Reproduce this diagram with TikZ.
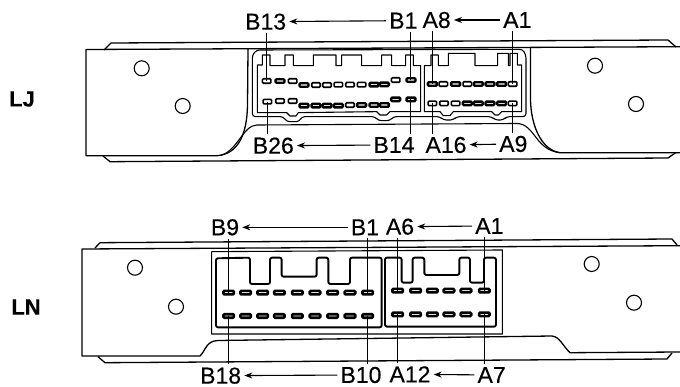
\documentclass[tikz,border=0pt]{standalone}
\usepackage{fontspec}
\setmainfont[FakeBold=0.3]{Liberation Sans}
\usetikzlibrary{arrows.meta}
\tikzset{
  lbl/.style={inner sep=3pt,font=\fontsize{23}{23}\selectfont},
  side/.style={inner sep=0pt,font=\fontsize{22}{22}\bfseries\selectfont},
  pinbox/.style={draw=black,fill=white,line width=1.6pt,rounded corners=1pt,inner sep=0pt,minimum width=8.5pt,minimum height=4.5pt},
  pindark/.style={pinbox,line width=2.4pt,minimum height=3.5pt,minimum width=9pt},
  pinboxb/.style={pinbox,minimum width=10.5pt,minimum height=3.8pt,minimum height=3.5pt,line width=2.6pt},
  plate/.style={line width=1.3pt,line join=round},
  thin plate/.style={line width=1.1pt,line join=round},
  comb/.style={line width=1.1pt,line join=round},
  combb/.style={line width=1.9pt,line join=round,rounded corners=2pt},
  leader/.style={line width=1pt},
  arr/.style={line width=1.1pt,-{Stealth[length=8pt,width=6pt]}},
  hole/.style={line width=1.1pt}
}
\begin{document}
\begin{tikzpicture}[x=1pt,y=-1pt]
\useasboundingbox (0,0) rectangle (680,387);
% ---------- LJ plate
\draw[plate] (680,46.7) -- (86,49.5) -- (86,155.7) -- (217,155.7)
  .. controls (238,154) and (247,135) .. (247.5,105) -- (248,49.5);
\draw[plate] (104,50) -- (111,43) -- (668,40) -- (676,47);
\draw[plate] (103,156) -- (110,161.7) -- (668,158) -- (676,152.5);
\draw[plate] (680,152.7) -- (560,152.7) .. controls (541,150) and (531,125) .. (530.5,100) -- (530.5,47);
\draw[thin plate] (220,155.5) .. controls (237,152) and (243,125) .. (257,125) -- (517,123.5)
  .. controls (535,124) and (535,150) .. (560,152.7);
\foreach \x/\y in {141.7/68.3,182.7/106,595/65.7,636/104}
  \draw[hole] (\x,\y) circle (7.5);
\node[side] (lj) at (22,99) {LJ};
% ---------- LJ connector
\begin{scope}[shift={(230,0)},x=.3333pt,y=-.3333pt]
\draw[comb,rounded corners=3pt] (67,165) -- (80,150) -- (878,148) -- (888,165) -- (888,350) -- (830,350)
  -- (820,360) -- (795,360) -- (785,350) -- (680,350) -- (670,360) -- (640,360) -- (630,350) -- (490,350)
  -- (480,362) -- (445,362) -- (435,350) -- (215,350) -- (208,365) -- (170,365) -- (160,350) -- (67,350) -- cycle;
\draw[comb] (82,338) -- (82,195) -- (97,195) -- (97,165) -- (120,165) -- (120,197) -- (165,197) -- (165,165)
  -- (190,165) -- (190,197) -- (250,197) -- (250,165) -- (318,165) -- (318,197) -- (335,197) -- (335,165)
  -- (395,165) -- (395,197) -- (455,197) -- (455,165) -- (485,165) -- (485,197) -- (527,197) -- (527,165)
  -- (550,165) -- (550,197) -- (572,197) -- (572,335) -- (480,335) -- (470,345) -- (450,345) -- (440,335)
  -- (205,338) -- (198,348) -- (180,348) -- (170,338) -- cycle;
\draw[comb] (583,335) -- (583,197) -- (603,197) -- (603,165) -- (625,165) -- (625,197) -- (655,197) -- (655,160)
  -- (735,160) -- (735,197) -- (803,197) -- (803,160) -- (835,160) -- (835,197) -- (840,197) -- (840,160)
  -- (862,160) -- (862,195) -- (875,195) -- (875,335) -- (815,335) -- (805,345) -- (795,345) -- (785,335)
  -- (670,335) -- (660,347) -- (640,347) -- (630,335) -- cycle;
\foreach \x/\y/\s [count=\i] in {110/243/pinbox,150/243/pindark,188/243/pinbox,222/255/pindark,258/255/pinbox,291/255/pinbox,325/254/pinbox,360/254/pinbox,395/254/pinbox,432/254/pindark,463/253/pindark,497/240/pinbox,543/240/pindark}
  \node[\s] (bt\i) at (\x,\y) {};
\foreach \x/\y/\s [count=\i] in {112/305/pinbox,150/303/pinbox,188/303/pinbox,222/317/pindark,258/317/pindark,291/317/pindark,325/317/pindark,360/315/pinbox,395/315/pindark,432/315/pindark,463/315/pindark,497/298/pindark,543/298/pindark}
  \node[\s] (bb\i) at (\x,\y) {};
\foreach \x/\s [count=\i] in {607/pindark,640/pinbox,677/pindark,712/pinbox,745/pindark,780/pindark,815/pindark,848/pinbox}
  \node[\s] (at\i) at (\x,252) {};
\foreach \x/\s [count=\i] in {607/pinbox,642/pinbox,677/pinbox,712/pindark,745/pindark,780/pindark,815/pindark,848/pinbox}
  \node[\s] (ab\i) at (\x,310) {};
\node[lbl] (lb13) at (107,65) {B13};
\node[lbl] (lb1) at (520,62) {B1};
\node[lbl] (la8) at (620,60) {A8};
\node[lbl] (la1) at (862,60) {A1};
\node[lbl] (lb26) at (130,437) {B26};
\node[lbl] (lb14) at (492,435) {B14};
\node[lbl] (la16) at (648,435) {A16};
\node[lbl] (la9) at (850,432) {A9};
\foreach \p/\l in {bt1/lb13,bt13/lb1,at1/la8,at8/la1}
  \draw[leader] (\p.center) -- (\p.center |- \l.south);
\foreach \p/\l in {bb1/lb26,bb13/lb14,ab1/la16,ab8/la9}
  \draw[leader] (\p.center) -- (\p.center |- \l.north);
\draw[arr] (lb1) -- (lb13);
\draw[arr] (la1) -- (la8);
\draw[arr] (lb14) -- (lb26);
\draw[arr] (la9) -- (la16);
\end{scope}
% ---------- LN plate
\draw[plate] (680,245.7) -- (82,249) -- (82,356) -- (200,356)
  .. controls (206,350) and (206,341) .. (218,340.5) -- (552,336) .. controls (560,337) and (562,345) .. (570,352.7) -- (680,352);
\draw[plate] (95,248) -- (100,242.7) -- (672,239) -- (677,245);
\draw[plate] (98,356.7) -- (105,362.7) -- (667,359) -- (672,353);
\foreach \x/\y in {135/267.7,176/306.7,591.7/264,634/302.7}
  \draw[hole] (\x,\y) circle (7.5);
\node[side] (ln) at (26,307) {LN};
% ---------- LN connector
\begin{scope}[shift={(190,210)},x=.3333pt,y=-.3333pt]
\draw[comb] (65,125) -- (937,120) -- (937,372) -- (65,372) -- cycle;
\draw[combb] (78,352) -- (78,145) -- (180,143) -- (180,222) -- (240,222) -- (240,143) -- (275,143) -- (275,200)
  -- (380,200) -- (380,143) -- (415,143) -- (415,222) -- (480,222) -- (480,143) -- (575,143) -- (575,352) -- cycle;
\draw[combb] (585,350) -- (585,143) -- (635,143) -- (635,218) -- (668,218) -- (668,143) -- (703,143) -- (703,195)
  -- (808,195) -- (808,143) -- (840,143) -- (840,218) -- (882,218) -- (882,143) -- (918,143) -- (918,350) -- cycle;
\foreach \x [count=\i] in {116,167,218,268,322,375,428,480,533}{
  \node[pinboxb] (nbt\i) at (\x,248) {};
  \node[pinboxb] (nbb\i) at (\x,318) {};
}
\foreach \x [count=\i] in {623,677,727,777,828,883}{
  \node[pinboxb] (nat\i) at (\x,242) {};
  \node[pinboxb] (nab\i) at (\x,313) {};
}
\node[lbl] (nb9) at (105,52) {B9};
\node[lbl] (nb1) at (525,52) {B1};
\node[lbl] (na6) at (630,50) {A6};
\node[lbl] (na1) at (898,48) {A1};
\node[lbl] (nb18) at (92,497) {B18};
\node[lbl] (nb10) at (513,495) {B10};
\node[lbl] (na12) at (660,493) {A12};
\node[lbl] (na7) at (905,495) {A7};
\foreach \p/\l in {nbt1/nb9,nbt9/nb1,nat1/na6,nat6/na1}
  \draw[leader] (\p.center) -- (\p.center |- \l.south);
\foreach \p/\l in {nbb1/nb18,nbb9/nb10,nab1/na12,nab6/na7}
  \draw[leader] (\p.center) -- (\p.center |- \l.north);
\draw[arr] (nb1) -- (nb9);
\draw[arr] (na1) -- (na6);
\draw[arr] (nb10) -- (nb18);
\draw[arr] (na7) -- (na12);
\end{scope}
\end{tikzpicture}
\end{document}
